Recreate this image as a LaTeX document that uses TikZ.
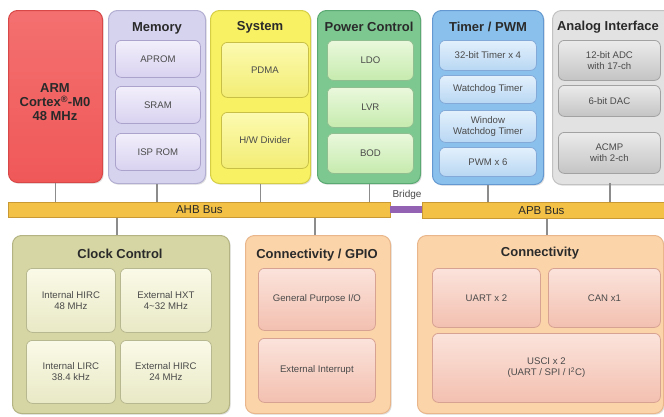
\documentclass[tikz,border=0pt]{standalone}
\usepackage{fontspec}
\setmainfont{Liberation Sans}
\usetikzlibrary{shadows}
\definecolor{armfill}{HTML}{F05858}
\definecolor{armtop}{HTML}{F47070}
\definecolor{armbd}{HTML}{D84848}
\definecolor{memfill}{HTML}{D6D3EF}
\definecolor{membd}{HTML}{B2AED2}
\definecolor{memtop}{HTML}{F2EFFB}
\definecolor{membot}{HTML}{D9D2F0}
\definecolor{memibd}{HTML}{ABA3CB}
\definecolor{sysfill}{HTML}{F8F164}
\definecolor{sysbd}{HTML}{D6CE44}
\definecolor{systop}{HTML}{FCFAB0}
\definecolor{sysbot}{HTML}{F3ED74}
\definecolor{sysibd}{HTML}{C8C046}
\definecolor{pwrfill}{HTML}{7DC891}
\definecolor{pwrbd}{HTML}{5AA872}
\definecolor{pwrtop}{HTML}{EAF8DC}
\definecolor{pwrbot}{HTML}{C6EBAE}
\definecolor{pwribd}{HTML}{8FBF90}
\definecolor{tmrfill}{HTML}{8AC1EC}
\definecolor{tmrbd}{HTML}{6399D0}
\definecolor{tmrtop}{HTML}{E3F0FC}
\definecolor{tmrbot}{HTML}{B8D7F3}
\definecolor{tmribd}{HTML}{82A9D8}
\definecolor{anafill}{HTML}{E2E2E2}
\definecolor{anabd}{HTML}{C2C2C2}
\definecolor{anatop}{HTML}{EBEBEB}
\definecolor{anabot}{HTML}{C4C4C4}
\definecolor{anaibd}{HTML}{A2A2A2}
\definecolor{busfill}{HTML}{F3C145}
\definecolor{busbd}{HTML}{C99A33}
\definecolor{bridge}{HTML}{9462B2}
\definecolor{clkfill}{HTML}{D6D6A4}
\definecolor{clkbd}{HTML}{B3B383}
\definecolor{clktop}{HTML}{FAFAE8}
\definecolor{clkbot}{HTML}{E9E9C6}
\definecolor{clkibd}{HTML}{B8B890}
\definecolor{confill}{HTML}{FCD4AA}
\definecolor{conbd}{HTML}{E8B68A}
\definecolor{contop}{HTML}{FBE3DB}
\definecolor{conbot}{HTML}{F3C0B0}
\definecolor{conibd}{HTML}{D8A292}
\definecolor{ttl}{HTML}{2A2A2A}
\definecolor{txt}{HTML}{4A4A4A}
\definecolor{wire}{HTML}{8C8C8C}
\begin{document}
\begin{tikzpicture}[x=1pt,y=-1pt,
  outer/.style={draw, rounded corners=9pt, anchor=north west, inner sep=0pt, line width=1pt,
    drop shadow={shadow xshift=1.2pt, shadow yshift=-1.2pt, opacity=0.25}},
  inbox/.style={draw, rounded corners=6pt, anchor=north west, inner sep=0pt, line width=0.8pt,
    align=center, font=\fontsize{9.6}{11}\selectfont, text=txt},
  ttlnode/.style={font=\bfseries\fontsize{13}{15}\selectfont, text=ttl},
  bus/.style={draw=busbd, fill=busfill, anchor=north west, inner sep=0pt, line width=0.8pt,
    font=\fontsize{11.5}{13}\selectfont, text=ttl},
  wireline/.style={draw=wire, line width=1.2pt}
]
\useasboundingbox (0,0) rectangle (664,416);
\fill[white] (0,0) rectangle (664,416);

% ARM
\node[outer, draw=armbd, top color=armtop, bottom color=armfill, minimum width=94pt, minimum height=172pt] (arm) at (8,10) {};
\node[font=\bfseries\fontsize{13}{13.8}\selectfont, text=ttl, align=center] (armtxt) at (55,102) {ARM\\Cortex\textsuperscript{®}-M0\\48 MHz};

% Memory
\node[outer, draw=membd, fill=memfill, minimum width=97pt, minimum height=173pt] (mem) at (108,10) {};
\node[ttlnode] (memt) at (157,28) {Memory};
\node[inbox, draw=memibd, top color=memtop, bottom color=membot, minimum width=85pt, minimum height=37pt] (aprom) at (115,40) {APROM};
\node[inbox, draw=memibd, top color=memtop, bottom color=membot, minimum width=85pt, minimum height=37pt] (sram) at (115,86) {SRAM};
\node[inbox, draw=memibd, top color=memtop, bottom color=membot, minimum width=85pt, minimum height=37pt] (isp) at (115,133) {ISP ROM};

% System
\node[outer, draw=sysbd, fill=sysfill, minimum width=100pt, minimum height=173pt] (sys) at (210,10) {};
\node[ttlnode] (syst) at (260,27) {System};
\node[inbox, draw=sysibd, top color=systop, bottom color=sysbot, minimum width=87pt, minimum height=55pt] (pdma) at (221,42) {PDMA};
\node[inbox, draw=sysibd, top color=systop, bottom color=sysbot, minimum width=87pt, minimum height=56pt] (hwdiv) at (221,112) {H/W Divider};

% Power control
\node[outer, draw=pwrbd, fill=pwrfill, minimum width=103pt, minimum height=173pt] (pwr) at (317,10) {};
\node[ttlnode] (pwrt) at (369,27) {Power Control};
\node[inbox, draw=pwribd, top color=pwrtop, bottom color=pwrbot, minimum width=86pt, minimum height=40pt] (ldo) at (327,40) {LDO};
\node[inbox, draw=pwribd, top color=pwrtop, bottom color=pwrbot, minimum width=86pt, minimum height=40pt] (lvr) at (327,87) {LVR};
\node[inbox, draw=pwribd, top color=pwrtop, bottom color=pwrbot, minimum width=86pt, minimum height=40pt] (bod) at (327,133) {BOD};

% Timer / PWM
\node[outer, draw=tmrbd, fill=tmrfill, minimum width=111pt, minimum height=174pt] (tmr) at (432,10) {};
\node[ttlnode] (tmrt) at (488,27) {Timer / PWM};
\node[inbox, draw=tmribd, top color=tmrtop, bottom color=tmrbot, minimum width=97pt, minimum height=30pt] (t32) at (439,40) {32-bit Timer x 4};
\node[inbox, draw=tmribd, top color=tmrtop, bottom color=tmrbot, minimum width=97pt, minimum height=28pt] (wdt) at (439,75) {Watchdog Timer};
\node[inbox, draw=tmribd, top color=tmrtop, bottom color=tmrbot, minimum width=97pt, minimum height=32pt] (wwdt) at (439,110) {Window\\Watchdog Timer};
\node[inbox, draw=tmribd, top color=tmrtop, bottom color=tmrbot, minimum width=97pt, minimum height=29pt] (pwm) at (439,147) {PWM x 6};

% Analog interface
\node[outer, draw=anabd, fill=anafill, minimum width=120pt, minimum height=174pt] (ana) at (552,10) {};
\node[ttlnode] (anat) at (608,27) {Analog Interface};
\node[inbox, draw=anaibd, top color=anatop, bottom color=anabot, minimum width=102pt, minimum height=40pt] (adc) at (558,40) {12-bit ADC\\with 17-ch};
\node[inbox, draw=anaibd, top color=anatop, bottom color=anabot, minimum width=102pt, minimum height=31pt] (dac) at (558,85) {6-bit DAC};
\node[inbox, draw=anaibd, top color=anatop, bottom color=anabot, minimum width=102pt, minimum height=41pt] (acmp) at (558,132) {ACMP\\with 2-ch};

% Buses
\node[bus, minimum width=382pt, minimum height=15pt] (ahb) at (8,202) {AHB Bus};
\node[bus, minimum width=246pt, minimum height=16pt] (apb) at (422,202) {\hspace*{-8pt}APB Bus};
\node[draw=none, fill=bridge, anchor=north west, inner sep=0pt, minimum width=32pt, minimum height=7pt] (brg) at (390,206) {};
\node[font=\fontsize{10}{11}\selectfont, text=txt] (brgt) at (407,195) {Bridge};

% Clock control
\node[outer, draw=clkbd, fill=clkfill, minimum width=217pt, minimum height=178pt] (clk) at (12,235) {};
\node[ttlnode] (clkt) at (120,254) {Clock Control};
\node[inbox, draw=clkibd, top color=clktop, bottom color=clkbot, minimum width=89pt, minimum height=64pt] (hirc) at (26,268) {Internal HIRC\\48 MHz};
\node[inbox, draw=clkibd, top color=clktop, bottom color=clkbot, minimum width=91pt, minimum height=64pt] (hxt) at (120,268) {External HXT\\4\textasciitilde32 MHz};
\node[inbox, draw=clkibd, top color=clktop, bottom color=clkbot, minimum width=89pt, minimum height=63pt] (lirc) at (26,340) {Internal LIRC\\38.4 kHz};
\node[inbox, draw=clkibd, top color=clktop, bottom color=clkbot, minimum width=91pt, minimum height=63pt] (ehirc) at (120,340) {External HIRC\\24 MHz};

% Connectivity / GPIO
\node[outer, draw=conbd, fill=confill, minimum width=145pt, minimum height=178pt] (gpio) at (245,235) {};
\node[ttlnode] (gpiot) at (317,255) {Connectivity / GPIO};
\node[inbox, draw=conibd, top color=contop, bottom color=conbot, minimum width=117pt, minimum height=62pt] (gpo) at (258,268) {General Purpose I/O};
\node[inbox, draw=conibd, top color=contop, bottom color=conbot, minimum width=117pt, minimum height=64pt] (eint) at (258,338) {External Interrupt};

% Connectivity
\node[outer, draw=conbd, fill=confill, minimum width=246pt, minimum height=178pt] (con) at (417,235) {};
\node[ttlnode] (cont) at (540,253) {Connectivity};
\node[inbox, draw=conibd, top color=contop, bottom color=conbot, minimum width=108pt, minimum height=59pt] (uart) at (432,268) {UART x 2};
\node[inbox, draw=conibd, top color=contop, bottom color=conbot, minimum width=112pt, minimum height=59pt] (can) at (548,268) {CAN x1};
\node[inbox, draw=conibd, top color=contop, bottom color=conbot, minimum width=228pt, minimum height=69pt] (usci) at (432,333) {USCI x 2\\(UART / SPI / I\textsuperscript{2}C)};

% Connectors
\draw[wireline] (arm.south) -- (arm.south |- ahb.north);
\draw[wireline] (mem.south) -- (mem.south |- ahb.north);
\draw[wireline] (sys.south) -- (sys.south |- ahb.north);
\draw[wireline] ([xshift=0.5pt]pwr.south) -- ([xshift=0.5pt]pwr.south |- ahb.north);
\draw[wireline] (tmr.south) -- (tmr.south |- apb.north);
\coordinate (anadrop) at (610,183);
\draw[wireline] (anadrop) -- (anadrop |- apb.north);
\coordinate (clkup) at (117,235);
\draw[wireline] (clkup |- ahb.south) -- (clkup);
\coordinate (gpioup) at (315,235);
\draw[wireline] (gpioup |- ahb.south) -- (gpioup);
\coordinate (conup) at (547,235);
\draw[wireline] (conup |- apb.south) -- (conup);
\end{tikzpicture}
\end{document}
